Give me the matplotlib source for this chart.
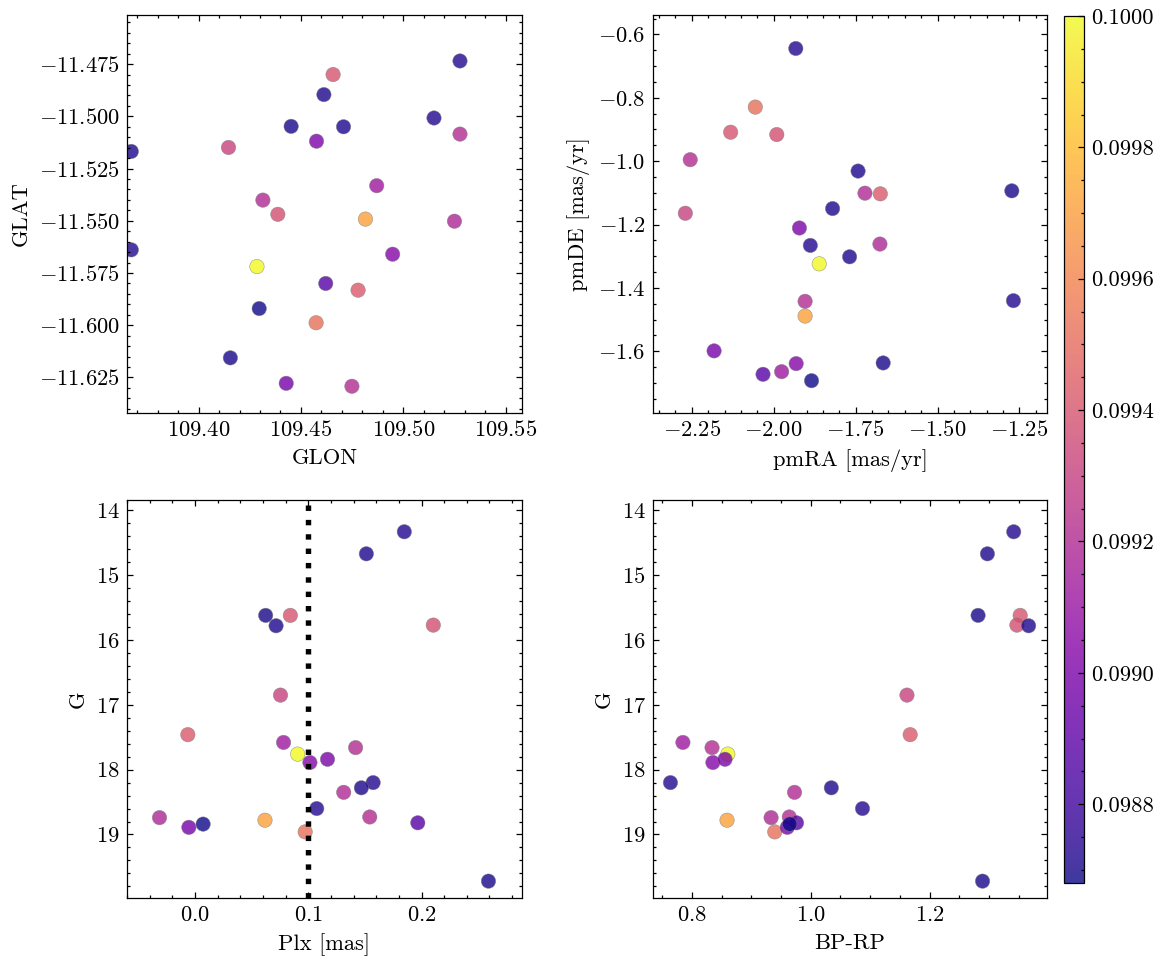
import matplotlib
matplotlib.use('Agg')
import matplotlib.pyplot as plt
from matplotlib.ticker import MultipleLocator, AutoMinorLocator, FormatStrFormatter

# star table (one entry per source, same order in every list)
glon = [109.4657, 109.4387, 109.4779, 109.4574, 109.4815, 109.4285, 109.4146,
        109.5277, 109.4314, 109.5250, 109.4749, 109.4870, 109.4948, 109.4576,
        109.4428, 109.4621,
        109.5277, 109.4612, 109.4452, 109.4708, 109.5150, 109.3671, 109.3671,
        109.4155, 109.4296]
glat = [-11.4800, -11.5469, -11.5832, -11.5988, -11.5492, -11.5719, -11.5149,
        -11.5085, -11.5401, -11.5502, -11.6292, -11.5332, -11.5660, -11.5119,
        -11.6278, -11.5800,
        -11.4735, -11.4896, -11.5048, -11.5050, -11.5008, -11.5168, -11.5639,
        -11.6156, -11.5920]
pmra = [-2.1315, -1.9907, -1.6747, -2.0562, -1.9043, -1.8611, -2.2698,
        -2.2549, -1.7216, -1.6759, -1.9043, -1.9759, -1.9315, -1.9216,
        -2.1821, -2.0327,
        -1.9327, -1.7426, -1.2734, -1.8204, -1.8883, -1.7685, -1.2685,
        -1.6660, -1.8846]
pmde = [-0.9087, -0.9161, -1.1032, -0.8294, -1.4890, -1.3241, -1.1645,
        -0.9954, -1.1011, -1.2617, -1.4425, -1.6645, -1.6391, -1.2110,
        -1.5989, -1.6729,
        -0.6444, -1.0313, -1.0937, -1.1497, -1.2660, -1.3019, -1.4404,
        -1.6370, -1.6930]
plx = [0.0842, 0.2104, -0.0063, 0.0973, 0.0618, 0.0907, 0.0755,
       0.1418, 0.1313, -0.0313, 0.1543, 0.0782, 0.1015, 0.1170,
       -0.0054, 0.1967,
       0.1848, 0.1513, 0.0624, 0.0716, 0.1573, 0.1469, 0.1075,
       0.2591, 0.0072]
gmag = [15.62, 15.77, 17.46, 18.96, 18.78, 17.76, 16.85,
        17.66, 18.35, 18.74, 18.73, 17.58, 17.89, 17.84,
        18.89, 18.82,
        14.33, 14.67, 15.62, 15.78, 18.20, 18.28, 18.60,
        19.72, 18.84]
bprp = [1.3522, 1.3467, 1.1672, 0.9394, 0.8592, 0.8605, 1.1618,
        0.8340, 0.9727, 0.9333, 0.9639, 0.7850, 0.8354, 0.8558,
        0.9605, 0.9761,
        1.3413, 1.2971, 1.2814, 1.3664, 0.7640, 1.0346, 1.0870,
        1.2889, 0.9646]
prob = [0.09940, 0.09938, 0.09942, 0.09952, 0.09971, 0.10000, 0.09931,
        0.09921, 0.09920, 0.09919, 0.09921, 0.09912, 0.09903, 0.09900,
        0.09898, 0.09888,
        0.09872, 0.09871, 0.09870, 0.09871, 0.09872, 0.09871, 0.09872,
        0.09870, 0.09868]
plx_line = 0.1
cbar_ticks = [0.0988, 0.0990, 0.0992, 0.0994, 0.0996, 0.0998, 0.1000]

plt.rcParams.update({
    'font.family': ['cmr10', 'DejaVu Serif'],
    'mathtext.fontset': 'cm',
    'axes.formatter.use_mathtext': True,
    'font.size': 10.8,
    'axes.linewidth': 0.6,
    'xtick.direction': 'in', 'ytick.direction': 'in',
    'xtick.top': True, 'ytick.right': True,
    'xtick.major.size': 3, 'ytick.major.size': 3,
    'xtick.minor.size': 1.5, 'ytick.minor.size': 1.5,
    'xtick.major.width': 0.6, 'ytick.major.width': 0.6,
    'xtick.minor.width': 0.6, 'ytick.minor.width': 0.6,
    'xtick.minor.visible': True, 'ytick.minor.visible': True,
})

W, H = 1166, 965
fig = plt.figure(figsize=(W / 150, H / 150), dpi=150)

def box(l, t, r, b):
    return [l / W, 1 - b / H, (r - l) / W, (b - t) / H]

ax1 = fig.add_axes(box(127, 15, 522, 413))
ax2 = fig.add_axes(box(653, 15, 1047, 413))
ax3 = fig.add_axes(box(127, 500, 522, 898))
ax4 = fig.add_axes(box(653, 500, 1047, 898))
cax = fig.add_axes(box(1064, 16, 1084, 883))

kw = dict(c=prob, cmap='plasma', s=48, alpha=0.8, edgecolors='gray', linewidths=0.25)

sc = ax1.scatter(glon, glat, **kw)
ax1.set_xlim(109.365, 109.558)
ax1.set_ylim(-11.642, -11.4515)
ax1.xaxis.set_major_locator(MultipleLocator(0.05))
ax1.yaxis.set_major_locator(MultipleLocator(0.025))
ax1.set_xlabel('GLON')
ax1.set_ylabel('GLAT')

ax2.scatter(pmra, pmde, **kw)
ax2.set_xlim(-2.3685, -1.166)
ax2.set_ylim(-1.795, -0.5387)
ax2.xaxis.set_major_locator(MultipleLocator(0.25))
ax2.yaxis.set_major_locator(MultipleLocator(0.2))
ax2.set_xlabel('pmRA [mas/yr]')
ax2.set_ylabel('pmDE [mas/yr]')

ax3.scatter(plx, gmag, **kw)
ax3.axvline(plx_line, color='k', ls=':', lw=2.6)
ax3.set_xlim(-0.060, 0.2887)
ax3.set_ylim(19.98, 13.84)
ax3.xaxis.set_major_locator(MultipleLocator(0.1))
ax3.yaxis.set_major_locator(MultipleLocator(1))
ax3.set_xlabel('Plx [mas]')
ax3.set_ylabel('G')

ax4.scatter(bprp, gmag, **kw)
ax4.set_xlim(0.7347, 1.3973)
ax4.set_ylim(19.98, 13.84)
ax4.xaxis.set_major_locator(MultipleLocator(0.2))
ax4.yaxis.set_major_locator(MultipleLocator(1))
ax4.set_xlabel('BP-RP')
ax4.set_ylabel('G')

for ax in (ax1, ax2, ax3, ax4):
    ax.xaxis.set_minor_locator(AutoMinorLocator())
    ax.yaxis.set_minor_locator(AutoMinorLocator())

cb = fig.colorbar(sc, cax=cax)
cb.outline.set_linewidth(0.6)
cb.set_ticks(cbar_ticks)
cb.ax.yaxis.set_major_formatter(FormatStrFormatter('%.4f'))
cb.ax.yaxis.set_minor_locator(MultipleLocator(0.00005))
cb.ax.tick_params(which='both', direction='in', right=True, left=False)

fig.savefig('out.png', dpi=150)
